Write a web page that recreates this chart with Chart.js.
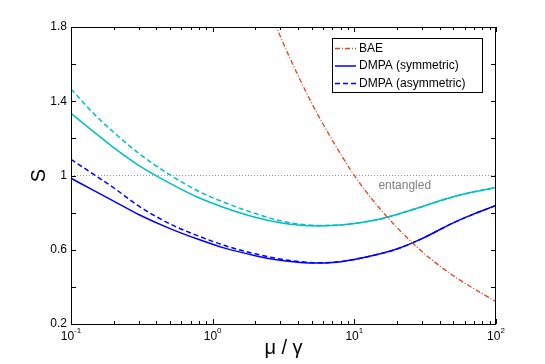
<!DOCTYPE html>
<html>
<head>
<meta charset="utf-8">
<script src="https://cdn.jsdelivr.net/npm/chart.js@4.4.1/dist/chart.umd.min.js"></script>
<style>
  body { margin: 0; background: #fff; }
</style>
</head>
<body>
<canvas id="chart" width="545" height="364"></canvas>
<script>
// mu / gamma values where the DMPA curves were read
const ratio = [0.1, 0.15, 0.2, 0.3, 0.5, 0.8, 1.2, 2, 3, 4, 5.5, 7, 10, 15, 20, 30, 50, 70, 100];
const cyanSym  = [1.335, 1.226, 1.150, 1.055, 0.958, 0.880, 0.828, 0.775, 0.745, 0.733, 0.728, 0.730, 0.741, 0.764, 0.790, 0.832, 0.885, 0.912, 0.935];
const cyanAsym = [1.466, 1.321, 1.233, 1.120, 1.003, 0.914, 0.856, 0.795, 0.756, 0.739, 0.731, 0.732, 0.742, 0.764, 0.790, 0.832, 0.885, 0.912, 0.935];
const blueSym  = [0.985, 0.913, 0.862, 0.790, 0.714, 0.655, 0.610, 0.568, 0.543, 0.533, 0.528, 0.531, 0.548, 0.577, 0.604, 0.660, 0.745, 0.793, 0.838];
const blueAsym = [1.087, 0.998, 0.934, 0.836, 0.739, 0.673, 0.624, 0.578, 0.550, 0.537, 0.530, 0.532, 0.548, 0.577, 0.604, 0.660, 0.745, 0.793, 0.838];

// BAE curve
const baeRatio = [2.6, 3, 4, 5, 7, 10, 15, 20, 30, 50, 70, 100];
const baeS     = [1.87, 1.75, 1.54, 1.39, 1.19, 1.00, 0.825, 0.72, 0.59, 0.46, 0.39, 0.32];

// entanglement bound
const entangledLevel = 1;

// axes
const xTickValues = [0.1, 1, 10, 100];
const yTickValues = [0.2, 0.6, 1, 1.4, 1.8];
const yTickMarks = [0.2, 0.4, 0.6, 0.8, 1, 1.2, 1.4, 1.6, 1.8];

const FONT = '"Liberation Sans", Arial, Helvetica, sans-serif';
const RED = '#e5421c';
const BLUE = '#0000ff';
const CYAN = '#00bfbf';

const pts = (xs, ys) => xs.map((x, i) => ({ x: x, y: ys[i] }));

const legendItems = [
    { label: 'BAE', color: RED, dash: [5, 2, 1, 2] },
    { label: 'DMPA (symmetric)', color: BLUE, dash: [] },
    { label: 'DMPA (asymmetric)', color: BLUE, dash: [5, 3] }
];

// box, inward tick marks, x tick labels, legend and note
const decorations = {
    id: 'decorations',
    afterDatasetsDraw(chart) {
        const ctx = chart.ctx;
        const { left, right, top, bottom } = chart.chartArea;
        const xs = chart.scales.x;
        const ys = chart.scales.y;
        ctx.save();
        ctx.strokeStyle = '#000';
        ctx.lineWidth = 1;
        ctx.strokeRect(Math.round(left) + 0.5, Math.round(top) + 0.5, Math.round(right - left) - 1, Math.round(bottom - top));

        ctx.beginPath();
        yTickMarks.forEach(v => {
            const py = Math.round(ys.getPixelForValue(v)) + 0.5;
            ctx.moveTo(left, py); ctx.lineTo(left + 5, py);
            ctx.moveTo(right, py); ctx.lineTo(right - 5, py);
        });
        for (let d = -1; d <= 2; d++) {
            for (let m = 1; m <= 9; m++) {
                const v = m * Math.pow(10, d);
                if (v > 100.0001) break;
                const px = Math.round(xs.getPixelForValue(v)) + 0.5;
                const len = m === 1 ? 5 : 3;
                ctx.moveTo(px, bottom); ctx.lineTo(px, bottom - len);
                ctx.moveTo(px, top); ctx.lineTo(px, top + len);
            }
        }
        ctx.stroke();

        // x tick labels as 10 with exponent
        ctx.fillStyle = '#000';
        ctx.textBaseline = 'alphabetic';
        ctx.textAlign = 'left';
        xTickValues.forEach(v => {
            const px = xs.getPixelForValue(v);
            const exp = String(Math.round(Math.log10(v)));
            ctx.font = '12px ' + FONT;
            const wBase = ctx.measureText('10').width;
            ctx.font = '8px ' + FONT;
            const wExp = ctx.measureText(exp).width;
            const start = px - (wBase + wExp) / 2;
            ctx.font = '12px ' + FONT;
            ctx.fillText('10', start, 340);
            ctx.font = '8px ' + FONT;
            ctx.fillText(exp, start + wBase, 333);
        });

        // note
        ctx.font = '12px ' + FONT;
        ctx.fillStyle = '#808080';
        ctx.textAlign = 'center';
        ctx.textBaseline = 'middle';
        ctx.fillText('entangled', xs.getPixelForValue(22.7), ys.getPixelForValue(0.943));

        // legend
        const bx = 332, by = 38, bw = 150, bh = 54;
        ctx.fillStyle = '#fff';
        ctx.fillRect(bx, by, bw, bh);
        ctx.strokeStyle = '#000';
        ctx.strokeRect(bx + 0.5, by + 0.5, bw, bh);
        ctx.textAlign = 'left';
        ctx.font = '12px ' + FONT;
        legendItems.forEach((item, i) => {
            const ly = by + 10.5 + i * 17.5;
            ctx.beginPath();
            ctx.strokeStyle = item.color;
            ctx.lineWidth = 1.5;
            ctx.setLineDash(item.dash);
            ctx.moveTo(bx + 3, ly);
            ctx.lineTo(bx + 24, ly);
            ctx.stroke();
            ctx.setLineDash([]);
            ctx.fillStyle = '#000';
            ctx.fillText(item.label, bx + 27, ly);
        });
        ctx.restore();
    }
};

const ctx = document.getElementById('chart').getContext('2d');
const chart = new Chart(ctx, {
    type: 'line',
    data: {
        datasets: [
            {
                label: 'BAE',
                data: pts(baeRatio, baeS),
                borderColor: RED,
                borderDash: [5, 2, 1, 2],
                borderWidth: 1.3
            },
            {
                label: 'DMPA (symmetric) blue',
                data: pts(ratio, blueSym),
                borderColor: BLUE,
                borderWidth: 1.5
            },
            {
                label: 'DMPA (asymmetric) blue',
                data: pts(ratio, blueAsym),
                borderColor: BLUE,
                borderDash: [5, 3],
                borderWidth: 1.5
            },
            {
                label: 'DMPA (symmetric) cyan',
                data: pts(ratio, cyanSym),
                borderColor: CYAN,
                borderWidth: 1.5
            },
            {
                label: 'DMPA (asymmetric) cyan',
                data: pts(ratio, cyanAsym),
                borderColor: CYAN,
                borderDash: [5, 3],
                borderWidth: 1.5
            },
            {
                label: 'entangled',
                data: pts([0.1, 100], [entangledLevel, entangledLevel]),
                borderColor: '#999999',
                borderDash: [1, 2],
                borderWidth: 1
            }
        ]
    },
    options: {
        responsive: false,
        animation: false,
        layout: { padding: { top: 27, right: 49, left: 0, bottom: 0 } },
        elements: {
            point: { radius: 0 },
            line: { cubicInterpolationMode: 'monotone', fill: false }
        },
        plugins: {
            legend: { display: false },
            tooltip: { enabled: false }
        },
        scales: {
            x: {
                type: 'logarithmic',
                min: 0.1,
                max: 100,
                grid: { display: false, drawTicks: false },
                border: { display: false },
                ticks: { display: false },
                title: {
                    display: true,
                    text: 'μ / γ',
                    color: '#000',
                    font: { size: 20, family: FONT },
                    padding: { top: 0, bottom: 4 }
                },
                afterFit: s => { s.height = 40; }
            },
            y: {
                type: 'linear',
                min: 0.2,
                max: 1.8,
                afterBuildTicks: s => { s.ticks = yTickValues.map(v => ({ value: v })); },
                grid: { display: false, drawTicks: false },
                border: { display: false },
                ticks: {
                    color: '#000',
                    font: { size: 12, family: FONT },
                    padding: 4,
                    callback: v => String(v)
                },
                title: {
                    display: true,
                    text: 'S',
                    color: '#000',
                    font: { size: 20, family: FONT },
                    padding: { top: 27, bottom: 0 }
                },
                afterFit: s => { s.width = 71; }
            }
        }
    },
    plugins: [decorations]
});
</script>
</body>
</html>
